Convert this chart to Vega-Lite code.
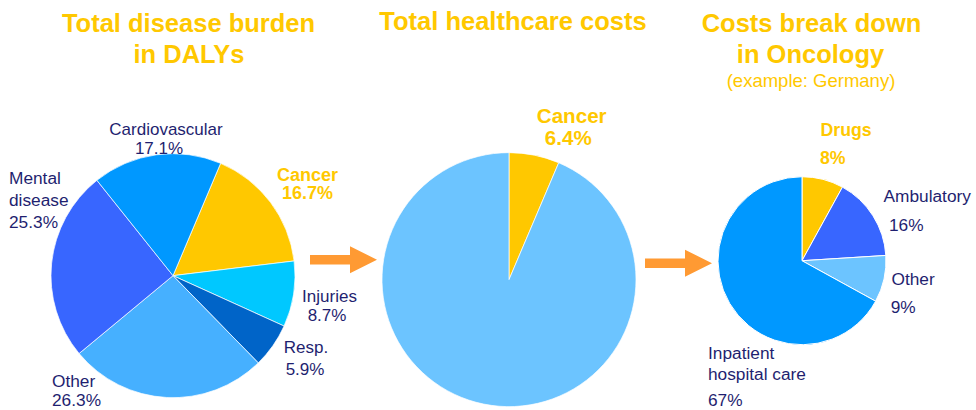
{
  "$schema": "https://vega.github.io/schema/vega-lite/v6.json",
  "width": 976,
  "height": 410,
  "padding": 0,
  "autosize": {"type": "fit", "contains": "padding"},
  "config": {"view": {"stroke": null}, "font": "Liberation Sans"},
  "datasets": {
    "daly": [
      {"segment": "Cancer", "share": 16.7, "ord": 1},
      {"segment": "Injuries", "share": 8.7, "ord": 2},
      {"segment": "Resp.", "share": 5.9, "ord": 3},
      {"segment": "Other", "share": 26.3, "ord": 4},
      {"segment": "Mental disease", "share": 25.3, "ord": 5},
      {"segment": "Cardiovascular", "share": 17.1, "ord": 6}
    ],
    "costs": [
      {"segment": "Cancer", "share": 6.4, "ord": 1},
      {"segment": "Rest", "share": 93.6, "ord": 2}
    ],
    "onco": [
      {"segment": "Drugs", "share": 8, "ord": 1},
      {"segment": "Ambulatory", "share": 16, "ord": 2},
      {"segment": "Other", "share": 9, "ord": 3},
      {"segment": "Inpatient hospital care", "share": 67, "ord": 4}
    ],
    "arrows": [
      {"step": "DALYs to costs", "x": 343.5, "y": 261},
      {"step": "costs to oncology", "x": 678.5, "y": 264.5}
    ],
    "titles": [
      {"text": "Total disease burden", "x": 188.5, "y": 31.7, "kind": "title"},
      {"text": "in DALYs", "x": 189, "y": 63.3, "kind": "title"},
      {"text": "Total healthcare costs", "x": 513, "y": 30.5, "kind": "title"},
      {"text": "Costs break down", "x": 811.5, "y": 31.7, "kind": "title"},
      {"text": "in Oncology", "x": 810.5, "y": 63.3, "kind": "title"},
      {"text": "(example: Germany)", "x": 811, "y": 87.5, "kind": "subtitle"}
    ],
    "labels": [
      {"text": "Cardiovascular", "x": 166, "y": 136, "kind": "navyC"},
      {"text": "17.1%", "x": 159, "y": 154.5, "kind": "navyC"},
      {"text": "Mental", "x": 9, "y": 185, "kind": "navyL"},
      {"text": "disease", "x": 9, "y": 207, "kind": "navyL"},
      {"text": "25.3%", "x": 9, "y": 229, "kind": "navyL"},
      {"text": "Cancer", "x": 307.5, "y": 181.5, "kind": "keyC"},
      {"text": "16.7%", "x": 307.5, "y": 200, "kind": "keyC"},
      {"text": "Injuries", "x": 329.5, "y": 303, "kind": "navyC"},
      {"text": "8.7%", "x": 327, "y": 322.7, "kind": "navyC"},
      {"text": "Resp.", "x": 306, "y": 355, "kind": "navyC"},
      {"text": "5.9%", "x": 305, "y": 376.7, "kind": "navyC"},
      {"text": "Other", "x": 52, "y": 389, "kind": "navyL"},
      {"text": "26.3%", "x": 52, "y": 407.7, "kind": "navyL"},
      {"text": "Cancer", "x": 571.7, "y": 124, "kind": "keyBig"},
      {"text": "6.4%", "x": 568.3, "y": 145.7, "kind": "keyBig"},
      {"text": "Drugs", "x": 820.5, "y": 136.7, "kind": "keyL"},
      {"text": "8%", "x": 820, "y": 165, "kind": "keyL"},
      {"text": "Ambulatory", "x": 883.5, "y": 203, "kind": "navyL"},
      {"text": "16%", "x": 889, "y": 231.7, "kind": "navyL"},
      {"text": "Other", "x": 891.5, "y": 286.7, "kind": "navyL"},
      {"text": "9%", "x": 890.7, "y": 315, "kind": "navyL"},
      {"text": "Inpatient", "x": 708, "y": 360.7, "kind": "navyL"},
      {"text": "hospital care", "x": 708, "y": 381.7, "kind": "navyL"},
      {"text": "67%", "x": 708, "y": 408, "kind": "navyL"}
    ]
  },
  "layer": [
    {
      "data": {"name": "daly"},
      "mark": {"type": "arc", "outerRadius": 122, "stroke": "white", "strokeWidth": 0.7},
      "encoding": {
        "x": {"datum": 173, "type": "quantitative", "scale": {"domain": [0, 976], "nice": false, "zero": false}, "axis": null},
        "y": {"datum": 277, "type": "quantitative", "scale": {"domain": [0, 410], "nice": false, "zero": false, "reverse": true}, "axis": null},
        "theta": {"field": "share", "type": "quantitative", "stack": true, "scale": {"range": [0.401, 6.684]}},
        "order": {"field": "ord", "type": "quantitative"},
        "color": {"field": "segment", "type": "nominal", "legend": null,
          "scale": {"domain": ["Cancer", "Injuries", "Resp.", "Other", "Mental disease", "Cardiovascular"],
                    "range": ["#FFC800", "#00C8FF", "#0064C8", "#46B0FF", "#3866FF", "#0098FF"]}}
      }
    },
    {
      "data": {"name": "costs"},
      "mark": {"type": "arc", "outerRadius": 127, "stroke": "white", "strokeWidth": 0.7},
      "encoding": {
        "x": {"datum": 509, "type": "quantitative", "scale": {"domain": [0, 976], "nice": false, "zero": false}, "axis": null},
        "y": {"datum": 281, "type": "quantitative", "scale": {"domain": [0, 410], "nice": false, "zero": false, "reverse": true}, "axis": null},
        "theta": {"field": "share", "type": "quantitative", "stack": true},
        "order": {"field": "ord", "type": "quantitative"},
        "color": {"field": "segment", "type": "nominal", "legend": null,
          "scale": {"domain": ["Cancer", "Rest"], "range": ["#FFC800", "#6CC4FF"]}}
      }
    },
    {
      "data": {"name": "onco"},
      "mark": {"type": "arc", "outerRadius": 84, "stroke": "white", "strokeWidth": 1},
      "encoding": {
        "x": {"datum": 802, "type": "quantitative", "scale": {"domain": [0, 976], "nice": false, "zero": false}, "axis": null},
        "y": {"datum": 262, "type": "quantitative", "scale": {"domain": [0, 410], "nice": false, "zero": false, "reverse": true}, "axis": null},
        "theta": {"field": "share", "type": "quantitative", "stack": true},
        "order": {"field": "ord", "type": "quantitative"},
        "color": {"field": "segment", "type": "nominal", "legend": null,
          "scale": {"domain": ["Drugs", "Ambulatory", "Other", "Inpatient hospital care"], "range": ["#FFC800", "#3866FF", "#6CC4FF", "#0098FF"]}}
      }
    },
    {
      "data": {"name": "arrows"},
      "mark": {"type": "point", "filled": true, "opacity": 1, "color": "#FF9A33", "size": 4489,
               "shape": "M-1,-0.142L0.194,-0.142L0.194,-0.403L1,0L0.194,0.403L0.194,0.142L-1,0.142Z"},
      "encoding": {
        "x": {"field": "x", "type": "quantitative", "scale": {"domain": [0, 976], "nice": false, "zero": false}, "axis": null},
        "y": {"field": "y", "type": "quantitative", "scale": {"domain": [0, 410], "nice": false, "zero": false, "reverse": true}, "axis": null}
      }
    },
    {
      "data": {"name": "titles"},
      "transform": [{"filter": "datum.kind === 'title'"}],
      "mark": {"type": "text", "font": "Liberation Sans", "fontWeight": "bold", "fontSize": 25.5, "color": "#FFC800", "align": "center", "baseline": "alphabetic"},
      "encoding": {
        "x": {"field": "x", "type": "quantitative", "scale": {"domain": [0, 976], "nice": false, "zero": false}, "axis": null},
        "y": {"field": "y", "type": "quantitative", "scale": {"domain": [0, 410], "nice": false, "zero": false, "reverse": true}, "axis": null},
        "text": {"field": "text"}
      }
    },
    {
      "data": {"name": "titles"},
      "transform": [{"filter": "datum.kind === 'subtitle'"}],
      "mark": {"type": "text", "font": "Liberation Sans", "fontSize": 18.5, "color": "#FFC800", "align": "center", "baseline": "alphabetic"},
      "encoding": {
        "x": {"field": "x", "type": "quantitative", "scale": {"domain": [0, 976], "nice": false, "zero": false}, "axis": null},
        "y": {"field": "y", "type": "quantitative", "scale": {"domain": [0, 410], "nice": false, "zero": false, "reverse": true}, "axis": null},
        "text": {"field": "text"}
      }
    },
    {
      "data": {"name": "labels"},
      "transform": [{"filter": "datum.kind === 'navyC'"}],
      "mark": {"type": "text", "font": "Liberation Sans", "fontSize": 17, "color": "#1F1F70", "align": "center", "baseline": "alphabetic"},
      "encoding": {
        "x": {"field": "x", "type": "quantitative", "scale": {"domain": [0, 976], "nice": false, "zero": false}, "axis": null},
        "y": {"field": "y", "type": "quantitative", "scale": {"domain": [0, 410], "nice": false, "zero": false, "reverse": true}, "axis": null},
        "text": {"field": "text"}
      }
    },
    {
      "data": {"name": "labels"},
      "transform": [{"filter": "datum.kind === 'navyL'"}],
      "mark": {"type": "text", "font": "Liberation Sans", "fontSize": 17.3, "color": "#1F1F70", "align": "left", "baseline": "alphabetic"},
      "encoding": {
        "x": {"field": "x", "type": "quantitative", "scale": {"domain": [0, 976], "nice": false, "zero": false}, "axis": null},
        "y": {"field": "y", "type": "quantitative", "scale": {"domain": [0, 410], "nice": false, "zero": false, "reverse": true}, "axis": null},
        "text": {"field": "text"}
      }
    },
    {
      "data": {"name": "labels"},
      "transform": [{"filter": "datum.kind === 'keyC'"}],
      "mark": {"type": "text", "font": "Liberation Sans", "fontWeight": "bold", "fontSize": 18, "color": "#FFC800", "align": "center", "baseline": "alphabetic"},
      "encoding": {
        "x": {"field": "x", "type": "quantitative", "scale": {"domain": [0, 976], "nice": false, "zero": false}, "axis": null},
        "y": {"field": "y", "type": "quantitative", "scale": {"domain": [0, 410], "nice": false, "zero": false, "reverse": true}, "axis": null},
        "text": {"field": "text"}
      }
    },
    {
      "data": {"name": "labels"},
      "transform": [{"filter": "datum.kind === 'keyL'"}],
      "mark": {"type": "text", "font": "Liberation Sans", "fontWeight": "bold", "fontSize": 17.7, "color": "#FFC800", "align": "left", "baseline": "alphabetic"},
      "encoding": {
        "x": {"field": "x", "type": "quantitative", "scale": {"domain": [0, 976], "nice": false, "zero": false}, "axis": null},
        "y": {"field": "y", "type": "quantitative", "scale": {"domain": [0, 410], "nice": false, "zero": false, "reverse": true}, "axis": null},
        "text": {"field": "text"}
      }
    },
    {
      "data": {"name": "labels"},
      "transform": [{"filter": "datum.kind === 'keyBig'"}],
      "mark": {"type": "text", "font": "Liberation Sans", "fontWeight": "bold", "fontSize": 20.6, "color": "#FFC800", "align": "center", "baseline": "alphabetic"},
      "encoding": {
        "x": {"field": "x", "type": "quantitative", "scale": {"domain": [0, 976], "nice": false, "zero": false}, "axis": null},
        "y": {"field": "y", "type": "quantitative", "scale": {"domain": [0, 410], "nice": false, "zero": false, "reverse": true}, "axis": null},
        "text": {"field": "text"}
      }
    }
  ],
  "resolve": {"scale": {"theta": "independent", "color": "independent"}}
}
